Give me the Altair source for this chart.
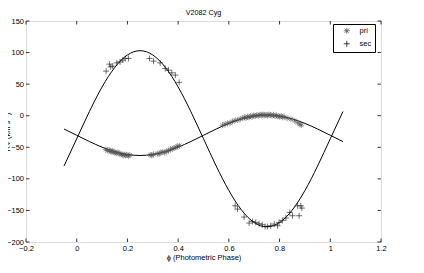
import altair as alt
import pandas as pd

# ---- model curves (step 0.05) ----
curve_phase = [-0.05, 0.0, 0.05, 0.1, 0.15, 0.2, 0.25, 0.3, 0.35, 0.4, 0.45, 0.5,
               0.55, 0.6, 0.65, 0.7, 0.75, 0.8, 0.85, 0.9, 0.95, 1.0, 1.05]
curve_pri = [-21.1, -31.0, -40.9, -49.8, -56.9, -61.4, -63.0, -61.4, -56.9, -49.8, -40.9, -31.0,
             -21.1, -12.2, -5.1, -0.6, 1.0, -0.6, -5.1, -12.2, -21.1, -31.0, -40.9]
curve_sec = [-79.6, -36.5, 6.6, 45.5, 76.4, 96.2, 103.0, 96.2, 76.4, 45.5, 6.6, -36.5,
             -79.6, -118.5, -149.4, -169.2, -176.0, -169.2, -149.4, -118.5, -79.6, -36.5, 6.6]

# ---- observed RVs ----
pri_phase = [0.115, 0.122, 0.128, 0.133, 0.138, 0.142, 0.147, 0.152, 0.158, 0.163, 0.170,
             0.176, 0.182, 0.188, 0.193, 0.198, 0.204, 0.209, 0.290, 0.296, 0.303, 0.318,
             0.325, 0.332, 0.340, 0.347, 0.355, 0.362, 0.370, 0.377, 0.384, 0.392, 0.398, 0.405,
             0.575, 0.585, 0.595, 0.605, 0.615, 0.625, 0.635, 0.645, 0.655, 0.662, 0.668,
             0.674, 0.680, 0.686, 0.692, 0.698, 0.704, 0.710, 0.716, 0.722, 0.728, 0.734,
             0.740, 0.746, 0.752, 0.758, 0.764, 0.770, 0.776, 0.782, 0.788, 0.794, 0.800,
             0.806, 0.812, 0.818, 0.830, 0.845, 0.860, 0.872, 0.880, 0.886]
pri_rv = [-53.5, -55.0, -54.5, -56.5, -57.0, -55.5, -58.0, -58.5, -59.5, -58.0, -60.5,
          -61.0, -62.5, -61.5, -63.0, -62.0, -63.5, -62.5, -62.0, -63.0, -61.0, -60.0,
          -60.5, -58.0, -57.5, -58.5, -56.0, -55.5, -53.0, -52.5, -51.0, -50.0, -48.5, -47.5,
          -15.0, -13.5, -12.0, -11.5, -9.0, -7.5, -7.0, -5.0, -4.0, -2.5, -3.5,
          -1.5, -2.5, -0.5, -1.5, 0.5, -0.5, 1.0, 0.0, 1.5, 0.5, 2.0,
          0.5, 1.5, 0.0, 2.0, 1.0, 0.0, 1.5, -0.5, 0.5, -1.0, -1.5,
          -0.5, -2.5, -1.5, -4.0, -5.5, -8.0, -11.0, -13.5, -15.0]

sec_phase = [0.116, 0.129, 0.134, 0.142, 0.158, 0.171, 0.182, 0.191, 0.204,
             0.287, 0.303, 0.329, 0.349, 0.362, 0.375, 0.389, 0.404,
             0.625, 0.634, 0.660, 0.680, 0.693, 0.706, 0.719, 0.732, 0.743, 0.752,
             0.765, 0.779, 0.792, 0.798, 0.811, 0.825, 0.840, 0.851, 0.871, 0.884,
             0.877, 0.888]
sec_rv = [70.6, 81.7, 77.4, 78.5, 83.7, 85.3, 88.0, 90.7, 90.7,
          90.7, 86.4, 83.7, 74.9, 72.2, 67.9, 64.3, 52.8,
          -142.7, -147.9, -160.5, -170.0, -167.5, -169.0, -171.0, -172.7, -175.4, -175.4,
          -174.2, -171.6, -174.2, -169.0, -165.9, -162.0, -153.2, -158.4, -142.7, -142.7,
          -158.4, -146.3]

x_ticks = [-0.2, 0.0, 0.2, 0.4, 0.6, 0.8, 1.0, 1.2]
y_ticks = [-200, -150, -100, -50, 0, 50, 100, 150]

W, H = 355, 221
TL = 3.5
FONT = "Liberation Sans"
FS = 7.5

curves = pd.DataFrame({
    "phase": curve_phase * 2,
    "rv": curve_pri + curve_sec,
    "curve": ["pri"] * len(curve_phase) + ["sec"] * len(curve_phase),
})
obs = pd.DataFrame({
    "phase": pri_phase + sec_phase,
    "rv": pri_rv + sec_rv,
    "series": ["pri"] * len(pri_phase) + ["sec"] * len(sec_phase),
})
xt = pd.DataFrame({"phase": x_ticks})
yt = pd.DataFrame({"rv": y_ticks})

xscale = alt.Scale(domain=[-0.2, 1.2], nice=False, zero=False)
yscale = alt.Scale(domain=[-200, 150], nice=False, zero=False)

xaxis = alt.Axis(values=x_ticks, format="~g", ticks=False, domain=False, grid=False,
                 labelFlush=False, labelOverlap=False,
                 labelFont=FONT, labelFontSize=FS, labelPadding=2.5, labelColor="black",
                 title="ϕ (Photometric Phase)", titleFont=FONT, titleFontSize=FS,
                 titleFontWeight="normal", titlePadding=1, titleColor="black")
yaxis = alt.Axis(values=y_ticks, format="d", ticks=False, domain=False, grid=False,
                 labelFlush=False, labelOverlap=False,
                 labelFont=FONT, labelFontSize=FS, labelPadding=2.5, labelColor="black",
                 title="RV (km s⁻¹)", titleFont=FONT, titleFontSize=FS,
                 titleFontWeight="normal", titleColor="black", titleX=-15)

X = alt.X("phase:Q", scale=xscale, axis=xaxis)
Y = alt.Y("rv:Q", scale=yscale, axis=yaxis)

ast = "M-1,0L1,0M0,-1L0,1M-0.7,-0.7L0.7,0.7M-0.7,0.7L0.7,-0.7"
plus = "M-1,0L1,0M0,-1L0,1"

line = alt.Chart(curves).mark_line(color="black", strokeWidth=1, interpolate="natural", clip=True).encode(
    x=X, y=Y, detail="curve:N",
)

leg = alt.Legend(orient="none", legendX=307, legendY=3, title=None, fillColor="white",
                 strokeColor="black", padding=3, labelFont=FONT, labelFontSize=FS,
                 labelColor="black", symbolSize=36, symbolStrokeWidth=0.8,
                 symbolOffset=7, labelOffset=9, rowPadding=3, cornerRadius=0)

pts = alt.Chart(obs).mark_point(filled=False, strokeWidth=0.6, size=36, opacity=1).encode(
    x=X, y=Y,
    shape=alt.Shape("series:N", scale=alt.Scale(domain=["pri", "sec"], range=[ast, plus]), legend=leg),
    stroke=alt.Stroke("series:N", scale=alt.Scale(domain=["pri", "sec"], range=["#555555", "#111111"]), legend=leg),
)

tick_b = alt.Chart(xt).mark_rule(color="black", strokeWidth=0.8).encode(
    x=X, y=alt.value(H), y2=alt.value(H - TL))
tick_t = alt.Chart(xt).mark_rule(color="black", strokeWidth=0.8).encode(
    x=X, y=alt.value(0), y2=alt.value(TL))
tick_l = alt.Chart(yt).mark_rule(color="black", strokeWidth=0.8).encode(
    y=Y, x=alt.value(0), x2=alt.value(TL))
tick_r = alt.Chart(yt).mark_rule(color="black", strokeWidth=0.8).encode(
    y=Y, x=alt.value(W), x2=alt.value(W - TL))

chart = alt.layer(line, pts, tick_b, tick_t, tick_l, tick_r).properties(
    width=W, height=H,
    title=alt.TitleParams("V2082 Cyg", font=FONT, fontSize=7.2, fontWeight="normal",
                          color="black", anchor="middle", offset=0.5, frame="group"),
    autosize=alt.AutoSizeParams(type="none"),
    padding={"left": 18, "top": 13, "right": 30, "bottom": 20},
).configure_view(stroke="black", strokeWidth=1).configure(background="white")

chart.save("out.html", embed_options={"renderer": "svg", "actions": False})
